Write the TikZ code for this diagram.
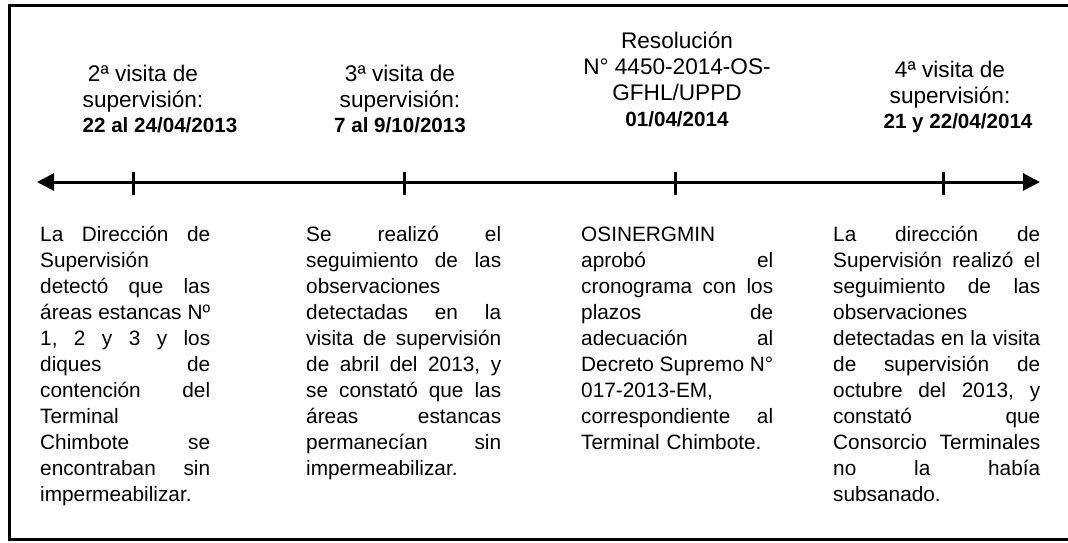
\documentclass[tikz,border=0pt]{standalone}
\usepackage{fontspec}
\setmainfont{Liberation Sans}
\usetikzlibrary{arrows.meta}
\newcommand\jst[2]{\leavevmode\hbox to #1pt{#2}}
\newcommand\hf{\hfill}
\begin{document}
\begin{tikzpicture}[x=1pt,y=1pt,
  body/.style={anchor=base west, inner sep=0pt, align=left, font=\fontsize{20.8}{26}\selectfont},
  head/.style={anchor=base, inner sep=0pt, align=center, font=\fontsize{22.6}{26}\selectfont},
  headdate/.style={anchor=base, inner sep=0pt, font=\fontsize{20.6}{26}\selectfont\bfseries},
  axis/.style={line width=3pt, {Triangle[length=17pt,width=17pt]}-{Triangle[length=17pt,width=17pt]}},
  tickmark/.style={line width=3pt},
  frameline/.style={line width=3pt, line join=miter}]
\useasboundingbox (0,0) rectangle (1068,-542);
% frame (top, left, bottom)
\coordinate (fTR) at (1068,-5);
\coordinate (fTL) at (9,-5);
\coordinate (fBL) at (9,-539);
\coordinate (fBR) at (1068,-539);
\draw[frameline] (fTR) -- (fTL) -- (fBL) -- (fBR);
% timeline
\coordinate (axL) at (37,-182);
\coordinate (axR) at (1040,-182);
\draw[axis] (axL) -- (axR);
\foreach \i/\x in {1/133,2/404,3/675,4/943}{
  \coordinate (t\i a) at (\x,-172);
  \coordinate (t\i b) at (\x,-195);
  \draw[tickmark] (t\i a) -- (t\i b);
}
% headers
\node[head] (h1) at (143,-107) {2ª visita de\\supervisión:};
\node[headdate] (h1d) at (160,-132) {22 al 24/04/2013};
\node[head] (h2) at (400,-107) {3ª visita de\\supervisión:};
\node[headdate] (h2d) at (400,-132) {7 al 9/10/2013};
\node[head] (h3) at (677,-100) {Resolución\\N° 4450-2014-OS-\\GFHL/UPPD};
\node[headdate] (h3d) at (677,-126) {01/04/2014};
\node[head] (h4) at (950,-103) {4ª visita de\\supervisión:};
\node[headdate] (h4d) at (958,-128) {21 y 22/04/2014};
% bodies
\node[body, text width=170pt] (b1) at (40,-241) {%
\jst{170}{La\hf Dirección\hf de}\\
Supervisión\\
\jst{170}{detectó\hf que\hf las}\\
\jst{170}{áreas\hf estancas\hf Nº}\\
\jst{170}{1,\hf 2\hf y\hf 3\hf y\hf los}\\
\jst{170}{diques\hf de}\\
\jst{170}{contención\hf del}\\
Terminal\\
\jst{170}{Chimbote\hf se}\\
\jst{170}{encontraban\hf sin}\\
impermeabilizar.};
\node[body, text width=195pt] (b2) at (306,-241) {%
\jst{195}{Se\hf realizó\hf el}\\
\jst{195}{seguimiento\hf de\hf las}\\
observaciones\\
\jst{195}{detectadas\hf en\hf la}\\
\jst{195}{visita\hf de\hf supervisión}\\
\jst{195}{de\hf abril\hf del\hf 2013,\hf y}\\
\jst{195}{se\hf constató\hf que\hf las}\\
\jst{195}{áreas\hf estancas}\\
\jst{195}{permanecían\hf sin}\\
impermeabilizar.};
\node[body, text width=192pt] (b3) at (581,-241) {%
OSINERGMIN\\
\jst{192}{aprobó\hf el}\\
\jst{192}{cronograma\hf con\hf los}\\
\jst{192}{plazos\hf de}\\
\jst{192}{adecuación\hf al}\\
\jst{192}{Decreto\hf Supremo\hf N°}\\
017-2013-EM,\\
\jst{192}{correspondiente\hf al}\\
Terminal Chimbote.};
\node[body, text width=207pt] (b4) at (833,-241) {%
\jst{207}{La\hf dirección\hf de}\\
\jst{207}{Supervisión\hf realizó\hf el}\\
\jst{207}{seguimiento\hf de\hf las}\\
observaciones\\
\jst{207}{detectadas\hf en\hf la\hf visita}\\
\jst{207}{de\hf supervisión\hf de}\\
\jst{207}{octubre\hf del\hf 2013,\hf y}\\
\jst{207}{constató\hf que}\\
\jst{207}{Consorcio\hf Terminales}\\
\jst{207}{no\hf la\hf había}\\
subsanado.};
\end{tikzpicture}
\end{document}
